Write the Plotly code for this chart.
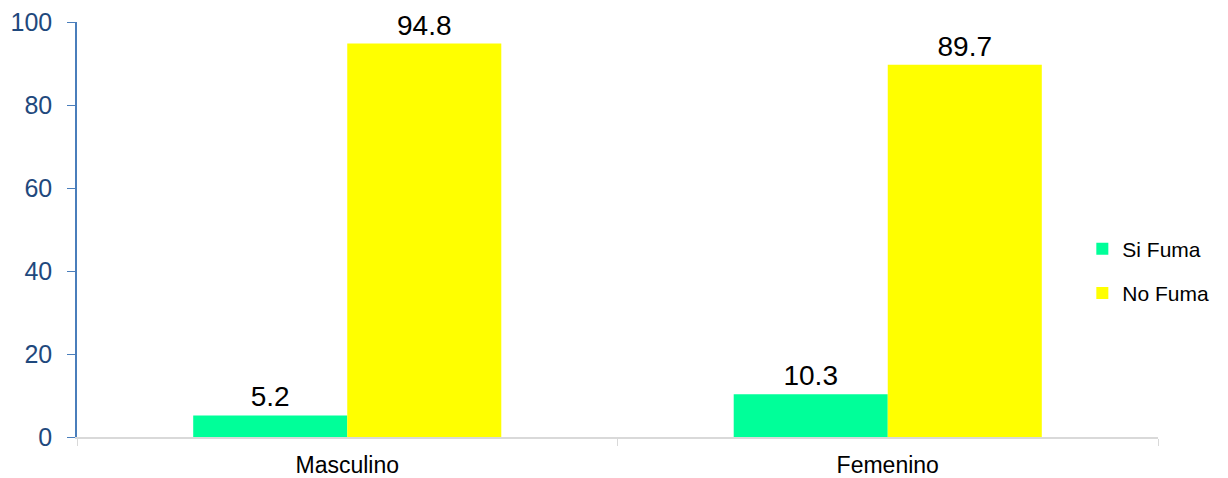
import plotly.graph_objects as go

categories = ["Masculino", "Femenino"]
si_fuma = [5.2, 10.3]
no_fuma = [94.8, 89.7]
y_ticks = [0, 20, 40, 60, 80, 100]

LABEL_FONT = dict(size=28, color="#000000")

fig = go.Figure()
fig.add_trace(go.Bar(
    name="Si Fuma", x=categories, y=si_fuma, legendgroup="si",
    marker=dict(color="#00FF99", line=dict(width=0)),
    text=[f"{v:.1f}" for v in si_fuma], textposition="outside",
    textfont=LABEL_FONT, cliponaxis=False,
))
fig.add_trace(go.Bar(
    name="No Fuma", x=categories, y=no_fuma, legendgroup="no",
    marker=dict(color="#FFFF00", line=dict(width=0)),
    text=[f"{v:.1f}" for v in no_fuma], textposition="outside",
    textfont=LABEL_FONT, cliponaxis=False,
))

fig.update_layout(
    width=1228, height=478,
    margin=dict(l=77, r=70, t=22, b=41, autoexpand=False),
    paper_bgcolor="white", plot_bgcolor="white",
    font=dict(family="Liberation Sans, Arial, sans-serif", color="#000000"),
    barmode="group", bargap=0.43, bargroupgap=0,
    legend=dict(x=0.93, y=0.4, xanchor="left", yanchor="middle",
                font=dict(size=21), bgcolor="rgba(0,0,0,0)",
                traceorder="grouped", tracegroupgap=14),
    showlegend=True,
)
fig.update_xaxes(
    showline=True, linecolor="#D9D9D9", linewidth=1.5,
    ticks="outside", tickson="boundaries", ticklen=7, tickcolor="#D9D9D9",
    tickfont=dict(size=23, color="#000000"), ticklabelstandoff=7,
    showgrid=False, zeroline=False,
)
fig.update_yaxes(
    range=[0, 100], tickvals=y_ticks, showgrid=False, zeroline=False,
    showline=True, linecolor="#4A7EBB", linewidth=1.5,
    ticks="outside", ticklen=8, tickcolor="#4A7EBB",
    tickfont=dict(size=25, color="#1F497D"), ticklabelstandoff=10,
)

fig.write_html("out.html")
